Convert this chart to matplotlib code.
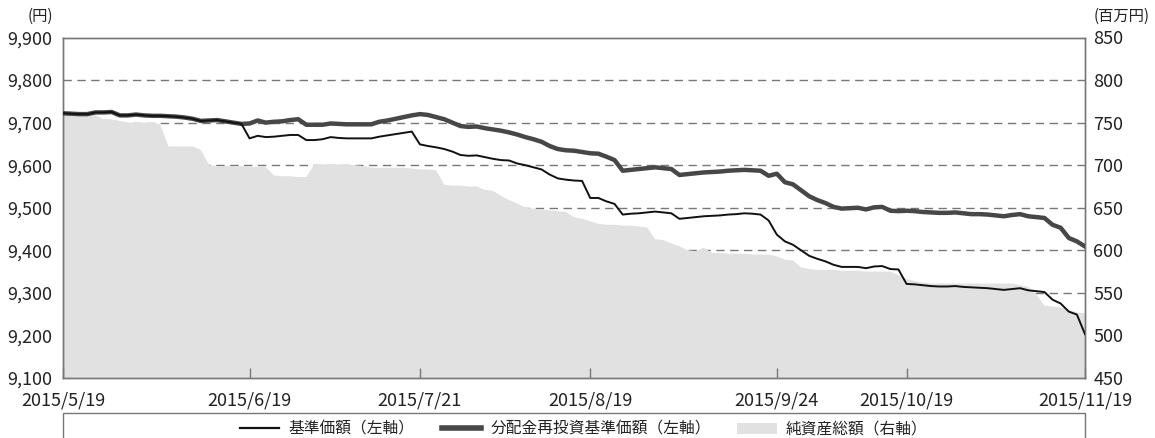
import numpy as np
import pandas as pd
import matplotlib
matplotlib.use("Agg")
import matplotlib.pyplot as plt
from matplotlib.lines import Line2D
from matplotlib.patches import Patch, Rectangle

plt.rcParams["font.family"] = ["Noto Sans CJK JP", "DejaVu Sans"]

# Tokyo business days, 2015/5/19 - 2015/11/19
JP_HOLIDAYS = ["2015-07-20", "2015-09-21", "2015-09-22", "2015-09-23",
               "2015-10-12", "2015-11-03"]
dates = pd.bdate_range("2015-05-19", "2015-11-19", freq="C", holidays=JP_HOLIDAYS)

# 基準価額 (yen)
nav = [9722, 9721, 9720, 9720, 9724, 9724, 9725, 9717, 9717, 9719,
       9717, 9716, 9716, 9715, 9714, 9712, 9709, 9704, 9705, 9706,
       9703, 9700, 9697, 9663, 9669, 9666, 9667, 9669, 9671, 9671,
       9659, 9659, 9661, 9666, 9664, 9663, 9663, 9663, 9663, 9667,
       9670, 9673, 9676, 9679, 9649, 9645, 9642, 9638, 9632, 9624,
       9622, 9623, 9619, 9615, 9612, 9611, 9604, 9600, 9595, 9590,
       9578, 9569, 9566, 9564, 9563, 9523, 9523, 9515, 9509, 9484,
       9486, 9487, 9489, 9491, 9489, 9487, 9474, 9476, 9478, 9480,
       9481, 9482, 9484, 9485, 9487, 9486, 9484, 9470, 9437, 9421,
       9413, 9400, 9387, 9380, 9374, 9366, 9361, 9361, 9361, 9358,
       9362, 9363, 9356, 9355, 9321, 9320, 9318, 9316, 9315, 9315,
       9316, 9314, 9313, 9312, 9311, 9309, 9307, 9309, 9311, 9306,
       9304, 9302, 9284, 9275, 9256, 9249, 9203]

# 分配金再投資基準価額 (yen)
reinvested = [9722, 9721, 9720, 9720, 9724, 9724, 9725, 9717, 9717, 9719,
              9717, 9716, 9716, 9715, 9714, 9712, 9709, 9704, 9705, 9706,
              9703, 9700, 9697, 9698, 9705, 9700, 9702, 9703, 9706, 9708,
              9695, 9695, 9695, 9698, 9697, 9696, 9696, 9696, 9696, 9702,
              9705, 9709, 9713, 9717, 9720, 9718, 9713, 9708, 9700, 9692,
              9690, 9691, 9687, 9684, 9681, 9677, 9672, 9666, 9661, 9655,
              9645, 9638, 9635, 9634, 9631, 9628, 9627, 9620, 9612, 9587,
              9589, 9591, 9593, 9595, 9593, 9591, 9577, 9579, 9581, 9583,
              9584, 9585, 9587, 9588, 9589, 9588, 9587, 9575, 9580, 9560,
              9555, 9541, 9527, 9518, 9511, 9502, 9498, 9499, 9500, 9496,
              9501, 9502, 9493, 9492, 9493, 9492, 9490, 9489, 9488, 9488,
              9489, 9487, 9485, 9485, 9484, 9482, 9480, 9483, 9485, 9480,
              9478, 9476, 9460, 9453, 9429, 9421, 9409]

# 純資産総額 (million yen)
net_assets = [759, 759, 759, 759, 759, 754, 754, 752, 750, 750,
              750, 750, 748, 722, 722, 722, 722, 718, 700, 699,
              699, 699, 699, 698, 698, 698, 688, 687, 687, 686,
              686, 701, 701, 701, 701, 701, 700, 699, 697, 697,
              697, 697, 697, 696, 695, 695, 694, 677, 676, 676,
              675, 675, 671, 670, 664, 659, 655, 650, 649, 648,
              647, 646, 645, 639, 637, 634, 631, 630, 630, 629,
              629, 628, 627, 613, 612, 608, 605, 600, 599, 603,
              597, 597, 596, 596, 596, 595, 595, 595, 593, 589,
              588, 580, 578, 577, 577, 577, 576, 576, 576, 575,
              575, 575, 575, 571, 566, 564, 562, 561, 561, 561,
              561, 561, 561, 561, 561, 561, 561, 561, 559, 557,
              548, 535, 534, 533, 530, 527, 526]

tick_dates = ["2015-05-19", "2015-06-19", "2015-07-21", "2015-08-19",
              "2015-09-24", "2015-10-19", "2015-11-19"]
left_ticks = list(range(9100, 9901, 100))
right_ticks = list(range(450, 851, 50))

assert len(dates) == len(nav) == len(reinvested) == len(net_assets)
x = np.arange(len(dates))

AXIS_GREY = "#777777"
TEXT = "#222222"

fig = plt.figure(figsize=(11.55, 4.38), dpi=100)
ax = fig.add_axes([63 / 1155, 1 - 378 / 438, 1022 / 1155, 340.5 / 438])
ax2 = ax.twinx()

# right axis holds the grey area and the dashed grid (grid sits under the area)
ax2.fill_between(x, 0, net_assets, color="#e1e1e1", lw=0, zorder=2)
ax2.set_ylim(450, 850)
ax2.set_yticks(right_ticks)
ax2.set_axisbelow(True)
ax2.grid(axis="y", color=AXIS_GREY, lw=1.0, ls=(0, (6, 4)))
for gl in (ax2.yaxis.get_gridlines()[0], ax2.yaxis.get_gridlines()[-1]):
    gl.set_visible(False)

# left axis on top with the two price lines
ax.set_zorder(ax2.get_zorder() + 1)
ax.patch.set_visible(False)
ax.plot(x, reinvested, color="#474747", lw=3.2, solid_joinstyle="round", zorder=3)
ax.plot(x, nav, color="#111111", lw=1.4, solid_joinstyle="round", zorder=4)
ax.set_ylim(9100, 9900)
ax.set_yticks(left_ticks)
ax.set_yticklabels([f"{v:,}" for v in left_ticks])
ax.set_xlim(0, len(dates) - 1)

tick_idx = [dates.get_loc(pd.Timestamp(d)) for d in tick_dates]
ax.set_xticks(tick_idx)
ax.set_xticklabels([f"{dates[i].year}/{dates[i].month}/{dates[i].day}" for i in tick_idx])

for a in (ax, ax2):
    for sp in a.spines.values():
        sp.set_color(AXIS_GREY)
        sp.set_linewidth(1.0)
ax.tick_params(axis="x", direction="in", length=7, width=1, color=AXIS_GREY,
               labelsize=13, labelcolor=TEXT, pad=10)
ax.tick_params(axis="y", length=0, labelsize=13, labelcolor=TEXT, pad=8)
ax2.tick_params(axis="y", length=0, labelsize=13, labelcolor=TEXT, pad=6)

fig.text(40 / 1155, 1 - 16 / 438, "(円)", fontsize=11, color=TEXT, ha="center", va="center")
fig.text(1122 / 1155, 1 - 16 / 438, "(百万円)", fontsize=11, color=TEXT, ha="center", va="center")

# legend box runs off the bottom edge like the source
fig.patches.append(Rectangle((63 / 1155, -0.05), 1022 / 1155, 25 / 438 + 0.05,
                             transform=fig.transFigure, fill=False,
                             edgecolor=AXIS_GREY, lw=1.0))
handles = [Line2D([], [], color="#111111", lw=1.6),
           Line2D([], [], color="#474747", lw=4),
           Patch(facecolor="#e1e1e1", edgecolor="none")]
labels = ["基準価額（左軸）", "分配金再投資基準価額（左軸）", "純資産総額（右軸）"]
fig.legend(handles, labels, loc="center", bbox_to_anchor=(584 / 1155, 1 - 429 / 438),
           ncol=3, frameon=False, fontsize=11.3, handlelength=2.5,
           handletextpad=0.6, columnspacing=1.7, labelcolor=TEXT)

fig.savefig("out.png", dpi=100)
